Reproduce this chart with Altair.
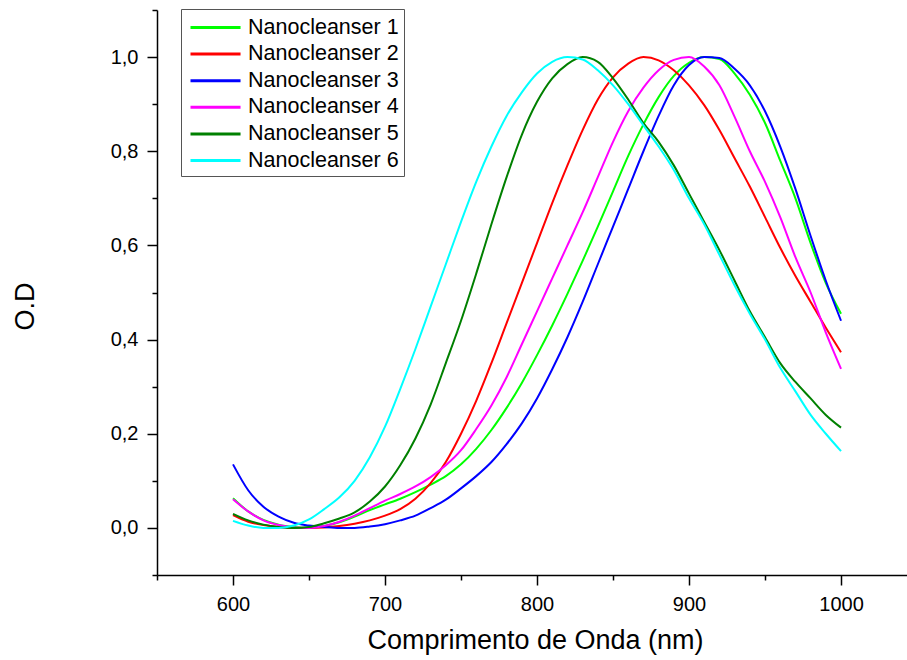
import altair as alt
import pandas as pd

wavelength = list(range(600, 1001, 10))

series_names = ["Nanocleanser 1", "Nanocleanser 2", "Nanocleanser 3",
                "Nanocleanser 4", "Nanocleanser 5", "Nanocleanser 6"]
series_colors = ["#00ff00", "#ff0000", "#0000ff", "#ff00ff", "#008000", "#00ffff"]

nc1 = [0.063, 0.035, 0.017, 0.007, 0.002, 0.000, 0.004, 0.012, 0.024, 0.038,
       0.050, 0.062, 0.076, 0.092, 0.110, 0.135, 0.168, 0.208, 0.255, 0.308,
       0.367, 0.430, 0.497, 0.567, 0.640, 0.715, 0.790, 0.857, 0.915, 0.960,
       0.988, 1.000, 0.996, 0.965, 0.920, 0.860, 0.780, 0.700, 0.605, 0.520,
       0.455]
nc2 = [0.027, 0.013, 0.006, 0.002, 0.000, 0.000, 0.001, 0.004, 0.009, 0.016,
       0.026, 0.040, 0.062, 0.095, 0.140, 0.200, 0.270, 0.350, 0.435, 0.520,
       0.605, 0.690, 0.770, 0.845, 0.910, 0.957, 0.986, 1.000, 0.993, 0.972,
       0.940, 0.898, 0.845, 0.785, 0.725, 0.660, 0.595, 0.535, 0.480, 0.425,
       0.373]
nc3 = [0.135, 0.080, 0.045, 0.024, 0.011, 0.005, 0.002, 0.000, 0.000, 0.003,
       0.008, 0.016, 0.026, 0.042, 0.060, 0.084, 0.110, 0.140, 0.178, 0.222,
       0.275, 0.337, 0.405, 0.480, 0.560, 0.640, 0.720, 0.800, 0.875, 0.940,
       0.983, 1.000, 0.998, 0.975, 0.940, 0.885, 0.810, 0.720, 0.620, 0.525,
       0.440]
nc4 = [0.061, 0.035, 0.016, 0.006, 0.001, 0.000, 0.004, 0.013, 0.026, 0.042,
       0.058, 0.072, 0.088, 0.108, 0.133, 0.165, 0.210, 0.260, 0.320, 0.390,
       0.460, 0.530, 0.600, 0.670, 0.745, 0.820, 0.885, 0.935, 0.972, 0.994,
       1.000, 0.980, 0.940, 0.873, 0.800, 0.735, 0.660, 0.575, 0.500, 0.415,
       0.338]
nc5 = [0.030, 0.016, 0.007, 0.002, 0.000, 0.002, 0.010, 0.020, 0.033, 0.056,
       0.088, 0.133, 0.190, 0.262, 0.350, 0.440, 0.540, 0.645, 0.745, 0.835,
       0.905, 0.955, 0.985, 1.000, 0.990, 0.955, 0.910, 0.860, 0.820, 0.770,
       0.710, 0.650, 0.590, 0.525, 0.460, 0.405, 0.350, 0.310, 0.275, 0.240,
       0.213]
nc6 = [0.015, 0.005, 0.000, 0.000, 0.005, 0.018, 0.040, 0.065, 0.100, 0.150,
       0.215, 0.295, 0.380, 0.470, 0.560, 0.650, 0.735, 0.810, 0.875, 0.925,
       0.965, 0.990, 1.000, 0.995, 0.972, 0.940, 0.900, 0.855, 0.810, 0.760,
       0.700, 0.645, 0.580, 0.515, 0.455, 0.400, 0.340, 0.290, 0.240, 0.200,
       0.163]

x_tick_values = list(range(550, 1001, 50))
y_tick_values = [round(-0.1 + 0.1 * i, 1) for i in range(13)]

rows = []
for name, vals in zip(series_names, [nc1, nc2, nc3, nc4, nc5, nc6]):
    for w, v in zip(wavelength, vals):
        rows.append({"wl": w, "od": v, "serie": name})
df = pd.DataFrame(rows)

FONT = "Liberation Sans"

x_axis = alt.Axis(
    values=x_tick_values,
    labelExpr="datum.value % 100 == 0 ? format(datum.value, 'd') : ''",
    tickSize={"condition": {"test": "datum.value % 100 != 0", "value": 5}, "value": 10},
    tickColor="black", tickWidth=1.5,
    domainColor="black", domainWidth=1.5,
    labelFont=FONT, labelFontSize=20, labelColor="black", labelPadding=9,
    title="Comprimento de Onda (nm)",
    titleFont=FONT, titleFontSize=27, titleFontWeight="normal", titleColor="black",
    titleX=378, titleY=73, titleAlign="center", titleBaseline="alphabetic",
    grid=False,
)
y_axis = alt.Axis(
    values=y_tick_values,
    labelExpr="abs(round(datum.value*10)) % 2 == 0 ? replace(format(datum.value, '.1f'), '.', ',') : ''",
    tickSize={"condition": {"test": "abs(round(datum.value*10)) % 2 == 1", "value": 5}, "value": 10},
    tickColor="black", tickWidth=1.5,
    domainColor="black", domainWidth=1.5,
    labelFont=FONT, labelFontSize=20, labelColor="black", labelPadding=9,
    title="O.D",
    titleFont=FONT, titleFontSize=27, titleFontWeight="normal", titleColor="black",
    titleX=-124, titleY=296, titleAngle=270, titleAlign="center", titleBaseline="alphabetic",
    grid=False,
)

legend = alt.Legend(
    title=None, orient="none", legendX=24, legendY=-1,
    symbolType="M-0.75,0H3.42", symbolSize=576, symbolStrokeWidth=3,
    labelFont=FONT, labelFontSize=21.5, labelColor="black", labelOffset=35,
    strokeColor="#555555", fillColor="white", padding=5, rowPadding=2.6,
)

chart = alt.Chart(df).mark_line(strokeWidth=2, interpolate="monotone", clip=True).encode(
    x=alt.X("wl:Q", scale=alt.Scale(domain=[550, 1043.4], nice=False, zero=False), axis=x_axis),
    y=alt.Y("od:Q", scale=alt.Scale(domain=[-0.1, 1.1], nice=False, zero=False), axis=y_axis),
    color=alt.Color("serie:N", scale=alt.Scale(domain=series_names, range=series_colors), legend=legend),
).properties(
    width=750, height=565,
    padding={"left": 157, "top": 10, "right": 0, "bottom": 85},
    autosize=alt.AutoSizeParams(type="none"),
    background="white",
).configure_view(stroke=None)

chart.save("out.html", embed_options={"renderer": "svg", "actions": False})
